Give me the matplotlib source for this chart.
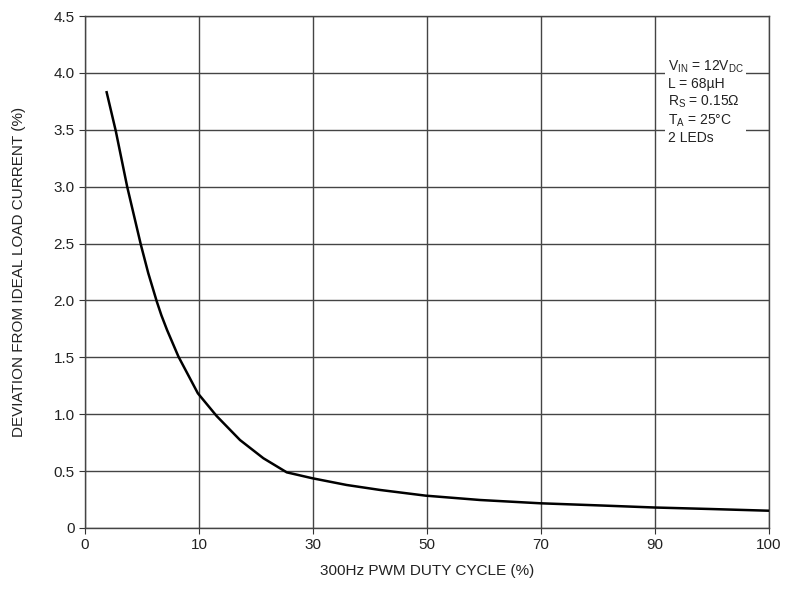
import numpy as np
import matplotlib
matplotlib.use("Agg")
import matplotlib.pyplot as plt

plt.rcParams['font.family'] = ['Liberation Sans', 'DejaVu Sans']
plt.rcParams['mathtext.fontset'] = 'custom'
plt.rcParams['mathtext.rm'] = 'Liberation Sans'

# tick labels on the x axis (evenly spaced in the original sheet)
tick_labels = [0, 10, 30, 50, 70, 90, 100]

# curve: duty cycle (%) and deviation (%)
duty = [1.9, 2.7, 3.7, 4.9, 5.55, 6.3, 6.7, 7.2, 8.2, 9.9, 13.1, 17.2, 21.3,
        25.4, 29.9, 35.9, 41.8, 49.8, 59.3, 69.9, 80.4, 89.9, 94.8, 99.9]
deviation = [3.83, 3.49, 3.0, 2.49, 2.24, 1.99, 1.87, 1.74, 1.506, 1.184, 0.984,
             0.773, 0.613, 0.489, 0.437, 0.378, 0.334, 0.284, 0.246, 0.217,
             0.198, 0.18, 0.167, 0.152]

# map duty values onto the evenly spaced tick grid
tick_pos = np.arange(len(tick_labels))
xpos = np.interp(duty, tick_labels, tick_pos)

fig = plt.figure(figsize=(7.87, 5.89), dpi=100)
ax = fig.add_axes([0.108, 0.1036, 0.869, 0.8692])

ax.plot(xpos, deviation, color='black', lw=1.8, zorder=3, solid_joinstyle='round')

ax.set_xlim(0, 6)
ax.set_ylim(0, 4.5)
ax.set_xticks(tick_pos)
ax.set_xticklabels([str(t) for t in tick_labels])
yt = np.arange(0, 4.51, 0.5)
ax.set_yticks(yt)
ax.set_yticklabels(['0'] + ['%.1f' % v for v in yt[1:]])
ax.grid(True, color='#444444', lw=1.0)
ax.tick_params(direction='out', length=4, width=0.8, colors='#333333',
               labelsize=11, labelcolor='#222222')
for s in ax.spines.values():
    s.set_color('#444444')
    s.set_linewidth(1.0)

ax.set_xlabel('300Hz PWM DUTY CYCLE (%)', fontsize=11, color='#222222', labelpad=8)
ax.set_ylabel('DEVIATION FROM IDEAL LOAD CURRENT (%)', fontsize=11, color='#222222', labelpad=20)

note = ('$\\mathregular{V_{IN}}$ = 12V$\\mathregular{_{DC}}$\n'
        'L = 68µH\n'
        '$\\mathregular{R_S}$ = 0.15Ω\n'
        '$\\mathregular{T_A}$ = 25°C\n'
        '2 LEDs')
ax.text(0.852, 0.917, note, transform=ax.transAxes, fontsize=10, va='top', ha='left',
        linespacing=1.2, color='#222222', zorder=4,
        bbox=dict(facecolor='white', edgecolor='none', pad=2))

fig.savefig('out.png', dpi=100)
